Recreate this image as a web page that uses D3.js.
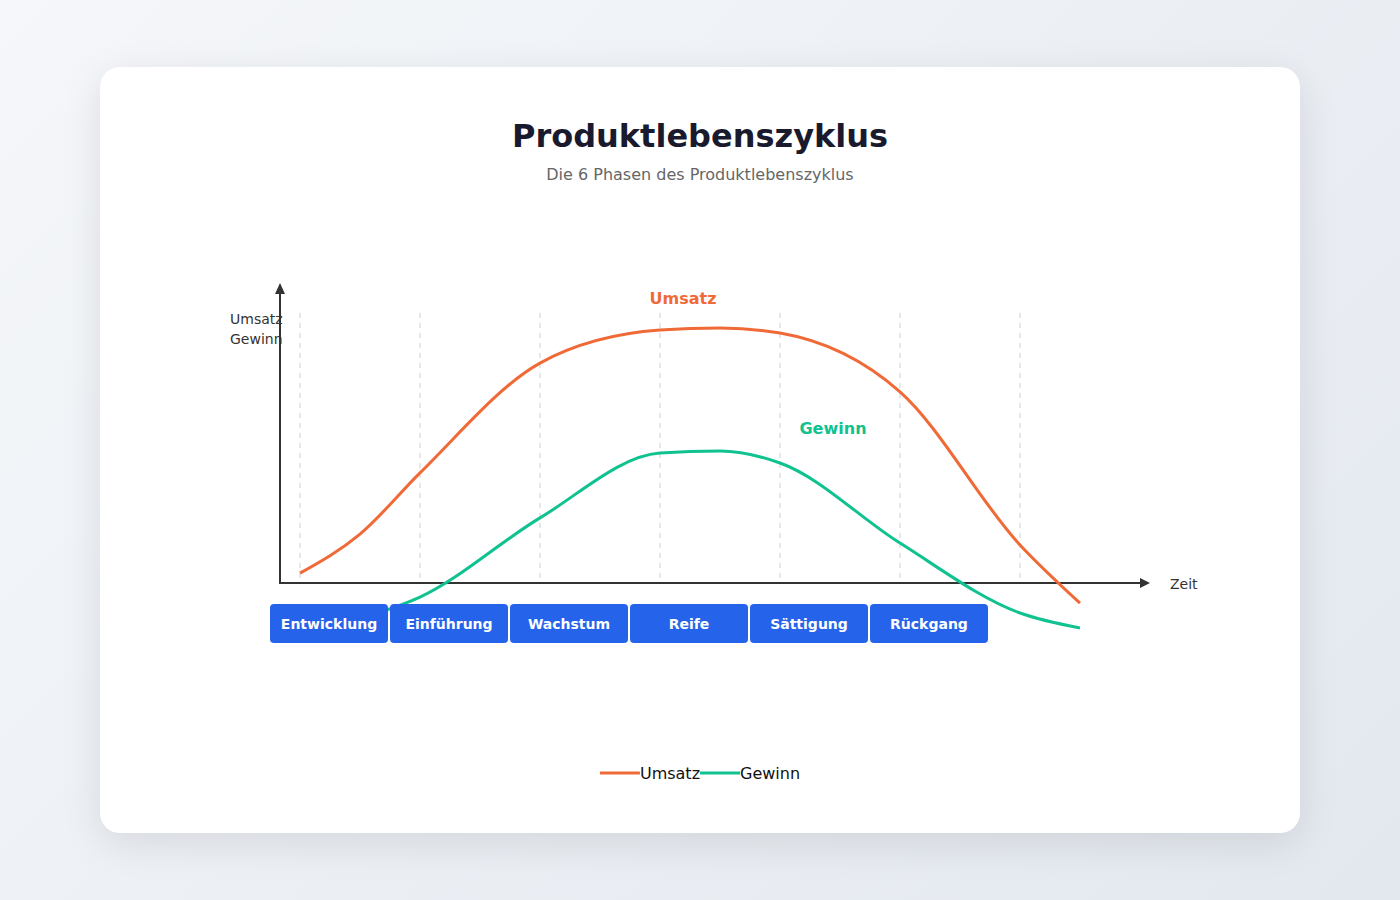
<!DOCTYPE html>
<html><head><meta charset="utf-8">
<script src="https://cdn.jsdelivr.net/npm/d3@7"></script>
<style>
html,body{margin:0;padding:0;width:1400px;height:900px;overflow:hidden;}
body{background:linear-gradient(135deg,#f5f7fa 0%,#e3e8ef 100%);font-family:"DejaVu Sans",sans-serif;position:relative;}
.card{position:absolute;left:100px;top:67px;width:1200px;height:766px;background:#fff;border-radius:20px;box-shadow:0 10px 40px rgba(0,0,0,0.10);}
svg{position:absolute;left:0;top:0;}
</style></head>
<body>
<div class="card"></div>
<svg id="chart" width="1400" height="900"></svg>
<script>
const phases = ["Entwicklung","Einführung","Wachstum","Reife","Sättigung","Rückgang"];
const timePoints = [0,0.5,1,2,3,3.5,4,5,6,6.5];
const umsatz = [3.3,16.3,36.7,73.3,84.3,85,83.3,63.7,12.7,-6.7];
const gewinn = [-19,-12,-4.7,21.7,43.3,44,40,13.3,-10,-15];
const gridTimes = [0,1,2,3,4,5,6];
const seriesNames = ["Umsatz","Gewinn"];
const colors = {Umsatz:"#f06a38", Gewinn:"#10c28f"};

const svg = d3.select("#chart");
const x = d3.scaleLinear().domain([0,6.5]).range([300,1080]);
const y = d3.scaleLinear().domain([0,100]).range([583,283]);

// title
svg.append("text").attr("x",700).attr("y",147).attr("text-anchor","middle")
  .attr("font-size",32).attr("font-weight","bold").attr("fill","#1a1a2e").text("Produktlebenszyklus");
svg.append("text").attr("x",700).attr("y",180).attr("text-anchor","middle")
  .attr("font-size",16).attr("fill","#666").text("Die 6 Phasen des Produktlebenszyklus");

// grid
svg.append("g").selectAll("line").data(gridTimes).join("line")
  .attr("x1",d=>x(d)).attr("x2",d=>x(d)).attr("y1",313).attr("y2",y(0))
  .attr("stroke","#e5e7eb").attr("stroke-width",2).attr("stroke-dasharray","5,5");

// axes
const axisColor="#333";
svg.append("line").attr("x1",280).attr("x2",1142).attr("y1",y(0)).attr("y2",y(0)).attr("stroke",axisColor).attr("stroke-width",2);
svg.append("path").attr("d",`M1150,${y(0)} L1140,${y(0)-5} L1140,${y(0)+5} Z`).attr("fill",axisColor);
svg.append("line").attr("x1",280).attr("x2",280).attr("y1",y(0)+1).attr("y2",292).attr("stroke",axisColor).attr("stroke-width",2);
svg.append("path").attr("d",`M280,283 L275,294 L285,294 Z`).attr("fill",axisColor);
svg.append("text").attr("x",1170).attr("y",589).attr("font-size",14).attr("fill","#333").text("Zeit");
svg.append("text").attr("x",230).attr("y",324).attr("font-size",14).attr("fill","#333").text("Umsatz");
svg.append("text").attr("x",230).attr("y",344).attr("font-size",14).attr("fill","#333").text("Gewinn");

// curves
const line = d3.line().x((d,i)=>x(timePoints[i])).y(d=>y(d)).curve(d3.curveMonotoneX);
svg.append("path").datum(umsatz).attr("d",line).attr("fill","none").attr("stroke",colors.Umsatz).attr("stroke-width",3);
svg.append("path").datum(gewinn).attr("d",line).attr("fill","none").attr("stroke",colors.Gewinn).attr("stroke-width",3);

// phase boxes
const band = d3.scaleBand().domain(phases).range([270,990]).paddingInner(0.0);
const g = svg.append("g").selectAll("g").data(phases).join("g");
g.append("rect").attr("x",d=>band(d)).attr("y",604).attr("width",band.bandwidth()-2).attr("height",39)
  .attr("rx",4).attr("fill","#2563eb");
g.append("text").attr("x",d=>band(d)+band.bandwidth()/2-1).attr("y",629).attr("text-anchor","middle")
  .attr("font-size",14).attr("font-weight","bold").attr("fill","#fff").text(d=>d);

// curve labels
svg.append("text").attr("x",683).attr("y",304).attr("text-anchor","middle").attr("font-size",16)
  .attr("font-weight","bold").attr("fill",colors.Umsatz).text("Umsatz");
svg.append("text").attr("x",833).attr("y",434).attr("text-anchor","middle").attr("font-size",16)
  .attr("font-weight","bold").attr("fill",colors.Gewinn).text("Gewinn");

// legend
const lg = svg.append("g");
let cx = 0;
seriesNames.forEach(n=>{
  lg.append("line").attr("x1",cx).attr("x2",cx+40).attr("y1",0).attr("y2",0).attr("stroke",colors[n]).attr("stroke-width",3);
  cx += 40;
  const t = lg.append("text").attr("x",cx).attr("y",6).attr("font-size",16).attr("fill","#111").text(n);
  cx += t.node().getComputedTextLength();
});
lg.attr("transform",`translate(${700-cx/2},773)`);
</script>
</body></html>
